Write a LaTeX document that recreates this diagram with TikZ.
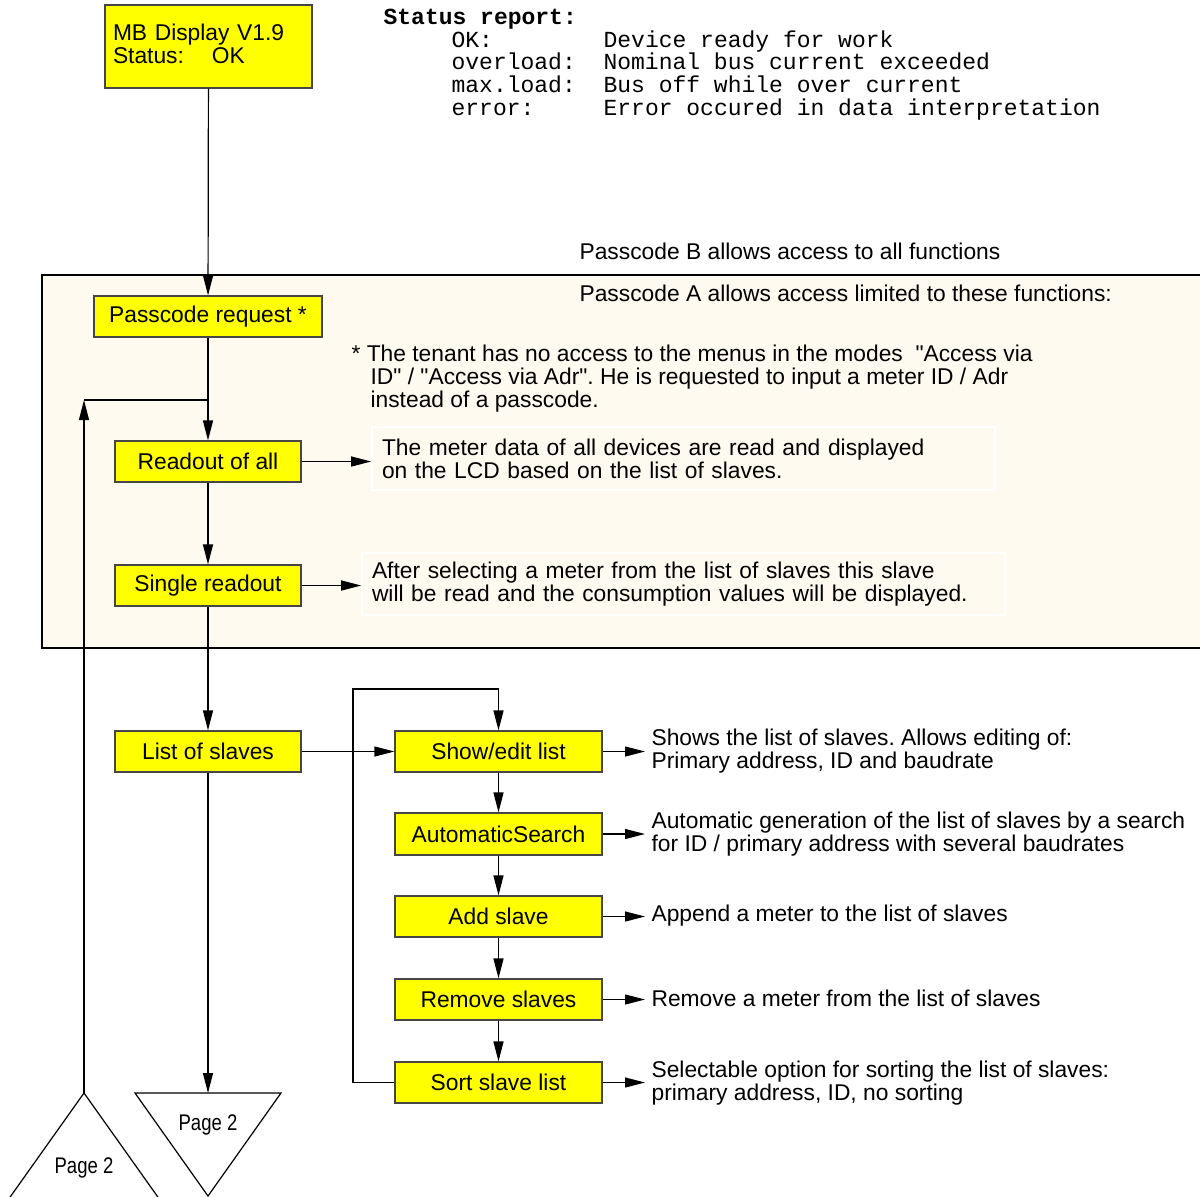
\documentclass[tikz,border=0pt]{standalone}
\usepackage{fontspec}
\setmainfont{Liberation Sans}[Ligatures=TeXOff]
\setmonofont{Liberation Mono}
\newfontfamily\narrowfont[FakeStretch=0.82]{Liberation Sans}
\usepackage{tikz}
\usetikzlibrary{arrows.meta}
\frenchspacing
\definecolor{menuyellow}{RGB}{255,255,0}
\definecolor{menuedge}{RGB}{70,70,70}
\definecolor{cream}{RGB}{255,250,240}
\tikzset{>={Triangle[length=10pt,width=5pt]}}
\tikzset{
  menu/.style={draw=menuedge, fill=menuyellow, inner sep=0pt, minimum height=20.5pt,
    font=\fontsize{11.4}{11.5}\selectfont},
  note/.style={align=left, inner sep=0pt, font=\fontsize{11.4}{11.5}\selectfont},
  infobox/.style={draw=white, line width=0.8pt, align=left, inner xsep=5pt, inner ysep=0pt,
    minimum height=31pt, font=\fontsize{11.4}{11.5}\selectfont},
  pagetext/.style={inner sep=0pt, font=\narrowfont\fontsize{11.3}{11.5}\selectfont}
}

\begin{document}
\begin{tikzpicture}[x=0.5pt, y=-0.5pt, line width=0.6pt]
      \useasboundingbox (0,0) rectangle (1200,1196);
      % area of passcode A
      \draw[fill=cream, line width=1.2pt] (42,275) rectangle (1215,648);

      \node[menu, minimum width=103.5pt, minimum height=41.5pt, text width=95.5pt, align=left, inner xsep=4pt]
        (disp) at (208.5,46.5) {MB Display V1.9\\Status:\hspace{14pt}OK\\[-9pt]\mbox{}};
      \node[anchor=west, inner sep=0pt, align=left, font=\ttfamily\fontsize{11.5}{11.4}\selectfont]
        (status) at (383,64.5) {\textbf{Status report:}\\
        \hspace*{34pt}\makebox[76pt][l]{OK:}Device ready for work\\
        \hspace*{34pt}\makebox[76pt][l]{overload:}Nominal bus current exceeded\\
        \hspace*{34pt}\makebox[76pt][l]{max.load:}Bus off while over current\\
        \hspace*{34pt}\makebox[76pt][l]{error:}Error occured in data interpretation};

      \node[note, anchor=west] (accb) at (579,251) {Passcode B allows access to all functions};
      \node[note, anchor=west] (acca) at (579,293) {Passcode A allows access limited to these functions:};

      \node[menu, minimum width=114pt] (pass) at (208,316.5) {Passcode request *};
      \node[note, anchor=west] (tenant) at (351,379) {* The tenant has no access to the menus in the modes\ \ "Access via\\
        \hspace*{9.5pt}ID" / "Access via Adr". He is requested to input a meter ID / Adr\\
        \hspace*{9.5pt}instead of a passcode.};

      \node[menu, minimum width=93pt] (readall) at (208,461.5) {Readout of all};
      \node[menu, minimum width=93pt] (single) at (208,585.5) {Single readout};
      \node[menu, minimum width=93pt] (slaves) at (208,751.5) {List of slaves};
      \node[infobox, text width=301.5pt, minimum height=31.5pt] (readinfo) at (683.5,458.5)
        {The meter data of all devices are read and displayed\\on the LCD based on the list of slaves.};
      \node[infobox, text width=311.5pt] (singleinfo) at (683.5,584)
        {After selecting a meter from the list of slaves this slave\\will be read and the consumption values will be displayed.};

      \node[menu, minimum width=103.5pt] (show) at (498.5,751.5) {Show/edit list};
      \node[menu, minimum width=103.5pt, minimum height=21pt] (search) at (498.5,834) {AutomaticSearch};
      \node[menu, minimum width=103.5pt] (add) at (498.5,916.5) {Add slave};
      \node[menu, minimum width=103.5pt] (remove) at (498.5,999.5) {Remove slaves};
      \node[menu, minimum width=103.5pt] (sort) at (498.5,1082.5) {Sort slave list};

      \node[note, anchor=west] (showinfo) at (651,751) {Shows the list of slaves. Allows editing of:\\Primary address, ID and baudrate};
      \node[note, anchor=west] (searchinfo) at (651,834) {Automatic generation of the list of slaves by a search\\for ID / primary address with several baudrates};
      \node[note, anchor=west] (addinfo) at (651,916) {Append a meter to the list of slaves};
      \node[note, anchor=west] (removeinfo) at (651,998) {Remove a meter from the list of slaves};
      \node[note, anchor=west] (sortinfo) at (651,1083) {Selectable option for sorting the list of slaves:\\primary address, ID, no sorting};

      % off-page connectors
      \coordinate (pgdown) at (208,1093);
      \draw (135,1093) -- (281,1093) -- (208,1196) -- cycle;
      \node[pagetext] (pgdowntext) at (208,1125) {Page 2};
      \coordinate (pgup) at (84,1093);
      \draw (8,1200) -- (pgup) -- (160,1200);
      \node[pagetext] (pguptext) at (84,1168) {Page 2};

      \coordinate (loopturn) at (84,400);
      \coordinate (loopjoin) at (208,400);
      \coordinate (backtop) at (353,689);

      \draw[->] (disp) -- (pass);
      \draw[->] (pass) -- (readall);
      \draw[->] (pgup) -- (loopturn);
      \draw (loopturn) -- (loopjoin);
      \draw[->] (readall) -- (single);
      \draw[->] (single) -- (slaves);
      \draw[->] (slaves) -- (pgdown);
      \draw[->] (readall.east) -- (readall.east -| readinfo.west);
      \draw[->] (single.east) -- (single.east -| singleinfo.west);
      \draw[->] (slaves) -- (show);
      \draw[->] (show) -- (search);
      \draw[->] (search) -- (add);
      \draw[->] (add) -- (remove);
      \draw[->] (remove) -- (sort);
      \draw[->] (sort.west) -| (backtop) -| (show.north);
      \draw[->, shorten >=3pt] (show.east) -- (show.east -| showinfo.west);
      \draw[->, shorten >=3pt] (search.east) -- (search.east -| searchinfo.west);
      \draw[->, shorten >=3pt] (add.east) -- (add.east -| addinfo.west);
      \draw[->, shorten >=3pt] (remove.east) -- (remove.east -| removeinfo.west);
      \draw[->, shorten >=3pt] (sort.east) -- (sort.east -| sortinfo.west);
    \end{tikzpicture}
\end{document}
